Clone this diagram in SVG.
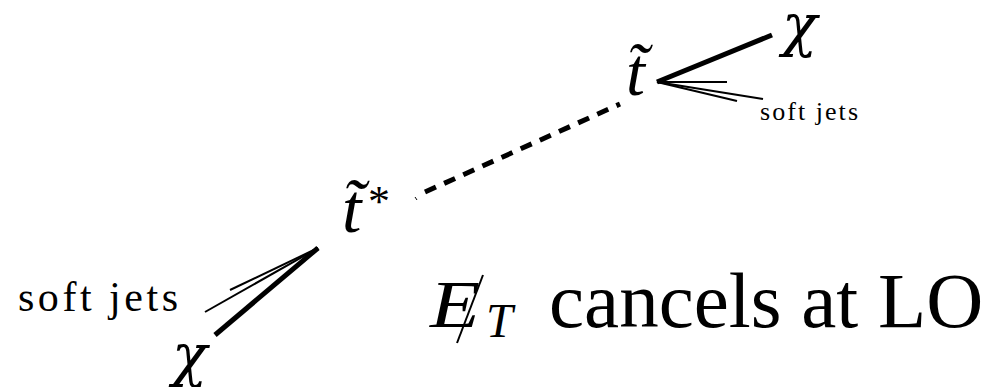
<svg xmlns="http://www.w3.org/2000/svg" width="995" height="387" viewBox="0 0 995 387">
<style>
.it{font-family:"Liberation Serif",serif;font-style:italic;fill:#000}
.gr{font-family:"DejaVu Serif","Liberation Serif",serif;font-style:italic;fill:#000}
.rm{font-family:"Liberation Serif",serif;fill:#000}
.thick{stroke:#000;stroke-width:5;fill:none}
.thin{stroke:#000;stroke-width:2;fill:none}
</style>
<rect width="995" height="387" fill="#fff"/>
<g id="connectors">
<line class="thick" x1="657" y1="82" x2="772" y2="35"/>
<line class="thin" x1="657" y1="82" x2="727" y2="82"/>
<line class="thin" x1="657" y1="82" x2="737" y2="101"/>
<line class="thin" x1="657" y1="82" x2="763" y2="99"/>
<line class="thick" x1="318" y1="248" x2="215" y2="335"/>
<line class="thin" x1="318" y1="248" x2="205" y2="312"/>
<line class="thin" x1="318" y1="248" x2="230" y2="290"/>
<line x1="415" y1="197" x2="417" y2="200" stroke="#000" stroke-width="1"/>
<line x1="425" y1="192" x2="620" y2="104" stroke="#000" stroke-width="5" stroke-dasharray="12 9"/>
</g>
<g id="stop">
<text class="it" x="626" y="95" font-size="68">t&#x303;</text>
</g>
<g id="chi-top">
<text class="gr" x="782" y="45" font-size="58">χ</text>
</g>
<g id="jets-top">
<text class="rm" x="760" y="120" font-size="26" textLength="98" lengthAdjust="spacing">soft jets</text>
</g>
<g id="santistop">
<text class="it" x="342" y="232" font-size="70">t&#x303;</text>
<text class="rm" x="368" y="216" font-size="44">*</text>
</g>
<g id="chi-bottom">
<text class="gr" x="172" y="375" font-size="58">χ</text>
</g>
<g id="jets-bottom">
<text class="rm" x="18" y="311" font-size="42" textLength="160" lengthAdjust="spacing">soft jets</text>
</g>
<g id="label">
<text class="it" x="430" y="327" font-size="68" textLength="50" lengthAdjust="spacingAndGlyphs">E</text>
<line x1="457" y1="343" x2="483" y2="275" stroke="#000" stroke-width="2"/>
<text class="it" x="486" y="337" font-size="48">T</text>
<text class="rm" x="549" y="327" font-size="79">cancels at LO</text>
</g>
</svg>
